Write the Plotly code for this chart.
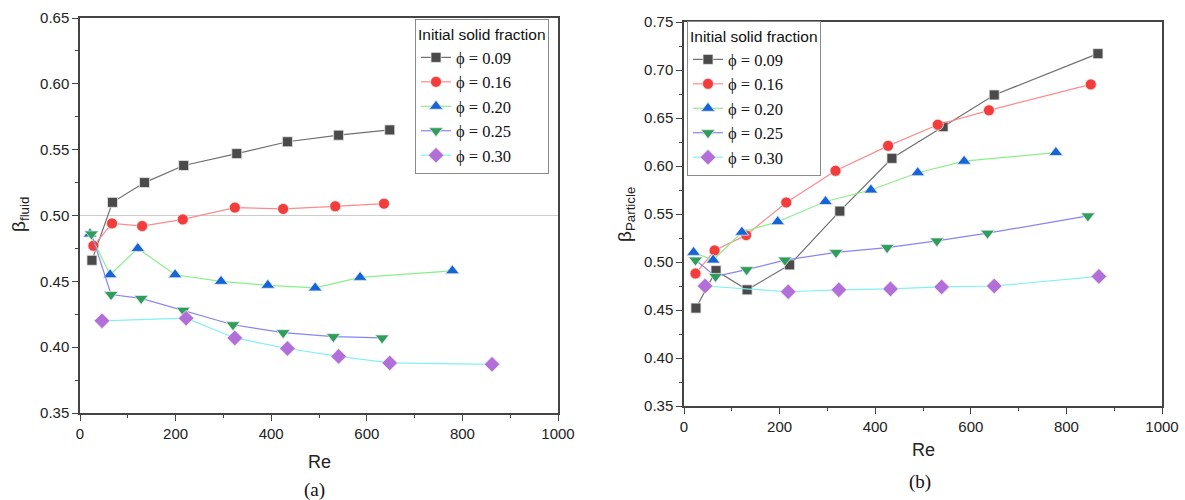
import plotly.graph_objects as go

# ---------------- data: panel (a) beta_fluid ----------------
re_a_009 = [25, 68, 135, 217, 328, 434, 541, 648]
beta_a_009 = [0.466, 0.510, 0.525, 0.538, 0.547, 0.556, 0.561, 0.565]
re_a_016 = [28, 67, 130, 215, 324, 425, 534, 636]
beta_a_016 = [0.477, 0.494, 0.492, 0.497, 0.506, 0.505, 0.507, 0.509]
re_a_020 = [21, 63, 121, 199, 295, 393, 492, 586, 779]
beta_a_020 = [0.486, 0.455, 0.475, 0.455, 0.450, 0.447, 0.445, 0.453, 0.458]
re_a_025 = [24, 65, 128, 216, 320, 425, 530, 632]
beta_a_025 = [0.486, 0.440, 0.437, 0.428, 0.417, 0.411, 0.408, 0.407]
re_a_030 = [46, 222, 324, 434, 541, 648, 862]
beta_a_030 = [0.420, 0.422, 0.407, 0.399, 0.393, 0.388, 0.387]

# ---------------- data: panel (b) beta_particle ----------------
re_b_009 = [25, 67, 132, 221, 326, 435, 542, 649, 866]
beta_b_009 = [0.452, 0.491, 0.471, 0.497, 0.553, 0.608, 0.641, 0.674, 0.717]
re_b_016 = [24, 64, 130, 214, 317, 427, 531, 638, 851]
beta_b_016 = [0.488, 0.512, 0.528, 0.562, 0.595, 0.621, 0.643, 0.658, 0.685]
re_b_020 = [20, 61, 121, 196, 296, 391, 489, 586, 778]
beta_b_020 = [0.510, 0.502, 0.531, 0.542, 0.563, 0.575, 0.593, 0.605, 0.614]
re_b_025 = [24, 66, 131, 211, 318, 425, 529, 635, 845]
beta_b_025 = [0.502, 0.485, 0.492, 0.502, 0.510, 0.515, 0.522, 0.530, 0.548]
re_b_030 = [44, 218, 324, 432, 539, 649, 868]
beta_b_030 = [0.475, 0.469, 0.471, 0.472, 0.474, 0.475, 0.485]

series_names = ["\u03d5 = 0.09", "\u03d5 = 0.16", "\u03d5 = 0.20", "\u03d5 = 0.25", "\u03d5 = 0.30"]

# styles
symbols = ["square", "circle", "triangle-up", "triangle-down", "diamond"]
marker_colors = ["#4a4a4a", "#f43c3c", "#1665d8", "#2f9d5c", "#b26ed9"]
line_colors = ["#707070", "#ff8a8a", "#88f088", "#8585f5", "#80f2f2"]
marker_sizes = [10, 11, 12, 12, 12]

W, H = 1185, 500
fig = go.Figure()

panel_a = [(re_a_009, beta_a_009), (re_a_016, beta_a_016), (re_a_020, beta_a_020),
           (re_a_025, beta_a_025), (re_a_030, beta_a_030)]
panel_b = [(re_b_009, beta_b_009), (re_b_016, beta_b_016), (re_b_020, beta_b_020),
           (re_b_025, beta_b_025), (re_b_030, beta_b_030)]

for i, (xs, ys) in enumerate(panel_a):
    fig.add_trace(go.Scatter(
        x=xs, y=ys, mode="lines+markers", name=series_names[i],
        xaxis="x", yaxis="y", legend="legend",
        line=dict(color=line_colors[i], width=1.2),
        marker=dict(symbol=symbols[i], size=marker_sizes[i], color=marker_colors[i],
                    line=dict(color="#e8e8e8", width=0.8)),
    ))
for i, (xs, ys) in enumerate(panel_b):
    fig.add_trace(go.Scatter(
        x=xs, y=ys, mode="lines+markers", name=series_names[i],
        xaxis="x2", yaxis="y2", legend="legend2",
        line=dict(color=line_colors[i], width=1.2),
        marker=dict(symbol=symbols[i], size=marker_sizes[i], color=marker_colors[i],
                    line=dict(color="#e8e8e8", width=0.8)),
    ))

axis_color = "#444444"
tick_font = dict(family="Liberation Sans, Arial, sans-serif", size=15, color="#222222")

def xaxis_style(domain, anchor):
    return dict(domain=domain, anchor=anchor, range=[0, 1000], dtick=200,
                showline=True, linecolor=axis_color, linewidth=1.5, mirror=True,
                ticks="outside", ticklen=6, tickwidth=1.3, tickcolor=axis_color,
                minor=dict(ticks="outside", ticklen=3, dtick=100, tickwidth=1.2, tickcolor=axis_color),
                showgrid=False, zeroline=False, tickfont=tick_font, automargin=False)

def yaxis_style(domain, anchor, rng):
    return dict(domain=domain, anchor=anchor, range=rng, dtick=0.05, tickformat=".2f",
                showline=True, linecolor=axis_color, linewidth=1.5, mirror=True,
                ticks="outside", ticklen=6, tickwidth=1.3, tickcolor=axis_color,
                minor=dict(ticks="outside", ticklen=3, dtick=0.025, tickwidth=1.2, tickcolor=axis_color),
                showgrid=False, zeroline=False, tickfont=tick_font, automargin=False)

xa_dom = [80 / W, 558 / W]
xb_dom = [684 / W, 1162 / W]
ya_dom = [1 - 413 / H, 1 - 18 / H]
yb_dom = [1 - 406 / H, 1 - 22 / H]

legend_common = dict(
    bgcolor="rgba(255,255,255,1)", bordercolor="#8a8a8a", borderwidth=1,
    font=dict(family="Liberation Serif, Times New Roman, serif", size=16.5, color="#111111"),
    title=dict(text="Initial solid fraction",
               font=dict(family="Liberation Sans, Arial, sans-serif", size=15.5, color="#111111")),
    xanchor="left", yanchor="top", tracegroupgap=0, itemsizing="trace",
)

fig.update_layout(
    width=W, height=H,
    margin=dict(l=0, r=0, t=0, b=0, autoexpand=False),
    paper_bgcolor="white", plot_bgcolor="white",
    xaxis=xaxis_style(xa_dom, "y"),
    yaxis=yaxis_style(ya_dom, "x", [0.35, 0.65]),
    xaxis2=xaxis_style(xb_dom, "y2"),
    yaxis2=yaxis_style(yb_dom, "x2", [0.35, 0.75]),
    legend=dict(x=415 / W, y=1 - 19 / H, **legend_common),
    legend2=dict(x=687 / W, y=1 - 21 / H, **legend_common),
    shapes=[dict(type="line", xref="x", yref="y", x0=0, x1=1000, y0=0.5, y1=0.5,
                 line=dict(color="#cccccc", width=1), layer="below")],
)

sans = "Liberation Sans, Arial, sans-serif"
serif = "Liberation Serif, Times New Roman, serif"
ann = [
    dict(text="Re", x=(80 + 558) / 2 / W, y=1 - 462 / H, font=dict(family=sans, size=18, color="#222")),
    dict(text="Re", x=(684 + 1162) / 2 / W, y=1 - 450 / H, font=dict(family=sans, size=18, color="#222")),
    dict(text="(a)", x=315 / W, y=1 - 490 / H, font=dict(family=serif, size=19, color="#111")),
    dict(text="(b)", x=920 / W, y=1 - 482 / H, font=dict(family=serif, size=19, color="#111")),
    dict(text="\u03b2<sub>fluid</sub>", x=20 / W, y=1 - 215 / H, textangle=-90,
         font=dict(family=sans, size=19, color="#222")),
    dict(text="\u03b2<sub>Particle</sub>", x=626 / W, y=1 - 215 / H, textangle=-90,
         font=dict(family=sans, size=19, color="#222")),
]
for a in ann:
    a.update(xref="paper", yref="paper", showarrow=False, xanchor="center", yanchor="middle")
fig.update_layout(annotations=ann)

fig.write_html("out.html")
